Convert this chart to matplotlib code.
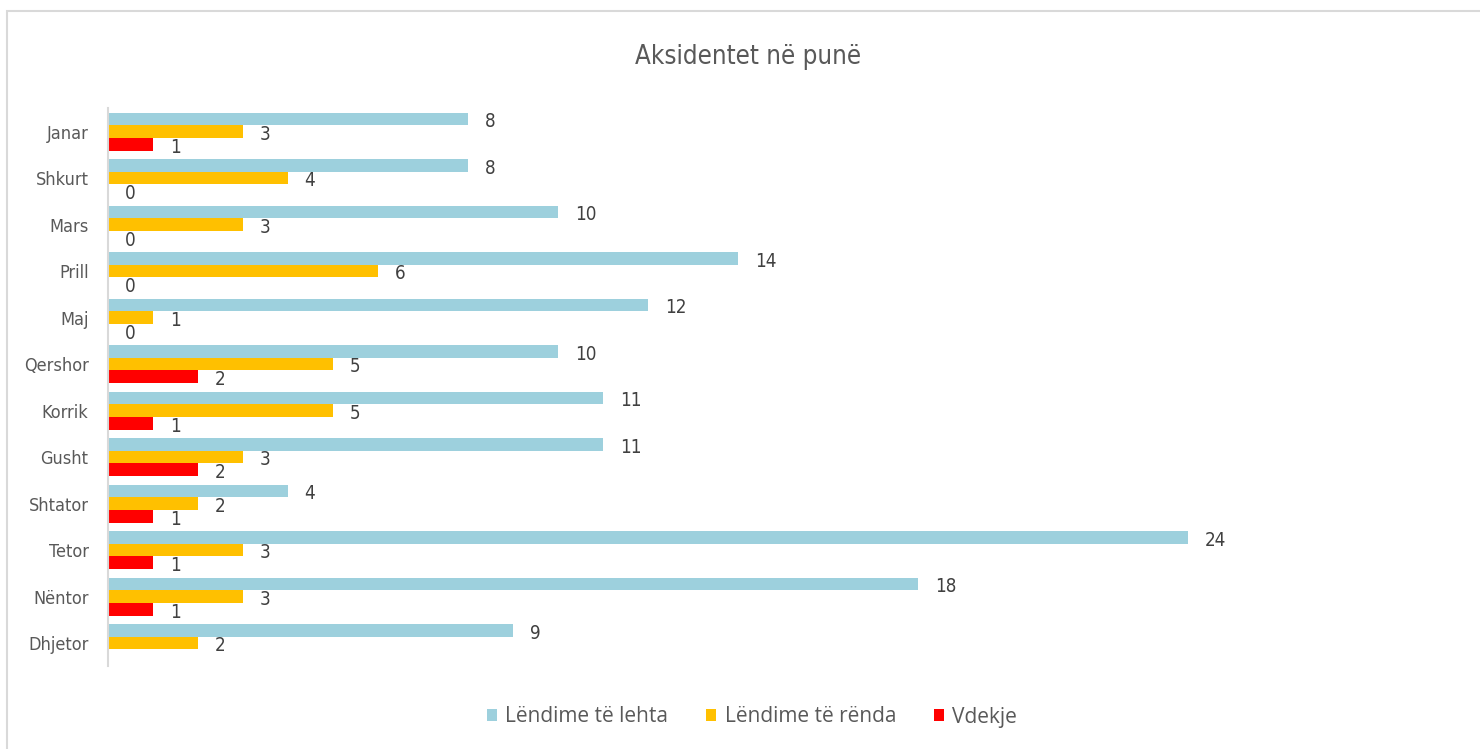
import numpy as np
import matplotlib
matplotlib.use('Agg')
import matplotlib.pyplot as plt
from matplotlib.patches import Rectangle

months = ['Janar', 'Shkurt', 'Mars', 'Prill', 'Maj', 'Qershor', 'Korrik',
          'Gusht', 'Shtator', 'Tetor', 'Nëntor', 'Dhjetor']
lehta = [8, 8, 10, 14, 12, 10, 11, 11, 4, 24, 18, 9]
renda = [3, 4, 3, 6, 1, 5, 5, 3, 2, 3, 3, 2]
vdekje = [1, 0, 0, 0, 0, 2, 1, 2, 1, 1, 1, None]

series_names = ['Lëndime të lehta', 'Lëndime të rënda', 'Vdekje']
colors = ['#9DD0DD', '#FFC000', '#FF0000']

# narrow look for the Excel condensed font
narrow = dict(family='DejaVu Sans', stretch='condensed')

W, H = 1480, 749
fig = plt.figure(figsize=(W / 100, H / 100), dpi=100)

# light frame around the chart
fig.patches.append(Rectangle((7 / W, -0.01), 1.02, 1 - 11 / H + 0.01,
                             transform=fig.transFigure, fill=False,
                             edgecolor='#D9D9D9', lw=1.5))

ax = fig.add_axes([108 / W, 1 - 666.4 / H, 1350 / W, (666.4 - 108.4) / H])

y = np.arange(len(months))
bh = 0.273
txt = '#404040'

for k, (vals, c) in enumerate(zip([lehta, renda, vdekje], colors)):
    pos = y + (k - 1) * bh
    v = [np.nan if x is None else x for x in vals]
    ax.barh(pos, v, height=bh, color=c, label=series_names[k])
    for p, x in zip(pos, vals):
        if x is None:
            continue
        ax.annotate(str(x), (x, p), xytext=(12, -2), textcoords='offset points',
                    ha='left', va='center', fontsize=13.5, color=txt, **narrow)

ax.set_xlim(0, 30)
ax.set_ylim(len(months) - 0.5, -0.5)
ax.set_yticks(y)
ax.set_yticklabels(months, fontsize=13, color='#595959', **narrow)
ax.tick_params(axis='y', length=0, pad=14)
ax.set_xticks([])
for s in ['top', 'right', 'bottom']:
    ax.spines[s].set_visible(False)
ax.spines['left'].set_color('#D9D9D9')
ax.spines['left'].set_linewidth(1.5)

fig.text(748 / W, 1 - 57 / H, 'Aksidentet në punë', ha='center', va='center',
         fontsize=18.5, color='#595959', **narrow)

leg = fig.legend(loc='center', bbox_to_anchor=(752 / W, 1 - 717 / H), ncol=3,
                 frameon=False, prop={'family': 'Open Sans', 'size': 15},
                 handlelength=0.5, handleheight=0.5, handletextpad=0.4,
                 columnspacing=1.8)
for t in leg.get_texts():
    t.set_color('#595959')

fig.savefig('out.png', dpi=100)
